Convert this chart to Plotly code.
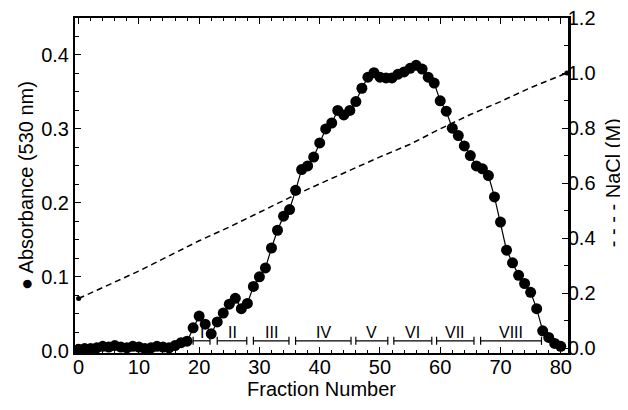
import plotly.graph_objects as go

# absorbance at 530 nm, one reading per fraction
fractions = list(range(0, 81))
absorbance = [0.002, 0.003, 0.003, 0.004, 0.006, 0.005, 0.007, 0.005, 0.004, 0.006,
              0.005, 0.003, 0.004, 0.006, 0.005, 0.004, 0.007,
              0.011, 0.013, 0.031, 0.047, 0.036, 0.023, 0.039, 0.051, 0.063, 0.071,
              0.057, 0.064, 0.087, 0.100, 0.112, 0.139, 0.163, 0.182, 0.191, 0.217,
              0.245, 0.250, 0.262, 0.281, 0.300, 0.308, 0.325, 0.319, 0.325, 0.337,
              0.355, 0.370, 0.376, 0.370, 0.369, 0.369, 0.374, 0.377, 0.382, 0.386,
              0.381, 0.370, 0.362, 0.338, 0.324, 0.301, 0.291, 0.277, 0.264, 0.250,
              0.246, 0.237, 0.208, 0.174, 0.136, 0.119, 0.102, 0.091, 0.079, 0.057,
              0.027, 0.018, 0.010, 0.006]

# NaCl gradient (M)
nacl_fraction = [0, 5, 10, 15, 20, 25, 30, 35, 40, 45, 50, 55, 60, 65, 70, 75, 81]
nacl_molar = [0.18, 0.23, 0.28, 0.335, 0.39, 0.44, 0.495, 0.547, 0.597, 0.646,
              0.695, 0.741, 0.797, 0.849, 0.896, 0.947, 1.0]

# pooled fractions
pool_names = ["I", "II", "III", "IV", "V", "VI", "VII", "VIII"]
pool_start = [19, 23, 29, 36, 46, 52.3, 59.4, 66.7]
pool_end = [21.8, 27.9, 34.9, 45.2, 51.3, 58.6, 65.6, 76.8]

FONT = "Liberation Sans, Arial, sans-serif"

fig = go.Figure()

# NaCl on the primary axis (drawn underneath), shown on the right side
fig.add_trace(go.Scatter(
    x=nacl_fraction, y=nacl_molar, yaxis="y", mode="lines",
    line=dict(color="black", width=1.5, dash="6px,4px"), showlegend=False))
fig.add_trace(go.Scatter(
    x=[nacl_fraction[0], nacl_fraction[-1]], y=[nacl_molar[0], nacl_molar[-1]],
    yaxis="y", mode="markers", marker=dict(color="black", size=5), showlegend=False))

fig.add_trace(go.Scatter(
    x=fractions, y=absorbance, yaxis="y2", mode="lines+markers",
    line=dict(color="black", width=1.2),
    marker=dict(color="black", size=11), showlegend=False))

# bracket bars for pools
bar_y = 0.0135
cap = 0.0055
for name, a, b in zip(pool_names, pool_start, pool_end):
    fig.add_shape(type="line", xref="x", yref="y2", x0=a, x1=b, y0=bar_y, y1=bar_y,
                  line=dict(color="black", width=1.2))
    for xc in (a, b):
        fig.add_shape(type="line", xref="x", yref="y2", x0=xc, x1=xc,
                      y0=bar_y - cap, y1=bar_y + cap, line=dict(color="black", width=1.2))
    fig.add_annotation(x=(a + b) / 2, y=bar_y, xref="x", yref="y2", text=name,
                       showarrow=False, yanchor="bottom", yshift=-2,
                       font=dict(family=FONT, size=16, color="black"))

# right-hand title as rotated text
fig.add_annotation(x=1, y=0.507, xref="paper", yref="paper", xshift=58,
                   text="- - - - NaCl (M)", textangle=-90, showarrow=False,
                   font=dict(family=FONT, size=20, color="black"))

fig.update_layout(
    width=628, height=410,
    margin=dict(l=67, r=68, t=10, b=65, autoexpand=False),
    paper_bgcolor="white", plot_bgcolor="white",
    font=dict(family=FONT, size=20, color="black"),
    xaxis=dict(
        range=[-0.6, 81.2], tickvals=[0, 10, 20, 30, 40, 50, 60, 70, 80],
        ticks="inside", ticklen=6, tickwidth=1.2, tickcolor="black",
        minor=dict(dtick=2, ticks="inside", ticklen=3, tickcolor="black"),
        showline=True, linecolor="black", linewidth=2, mirror="ticks",
        showgrid=False, zeroline=False, automargin=False, ticklabelstandoff=-5,
        title=dict(text="Fraction Number", standoff=0, font=dict(size=20)),
    ),
    yaxis=dict(
        side="right", range=[-0.018, 1.2], tickvals=[0, 0.2, 0.4, 0.6, 0.8, 1.0, 1.2],
        ticktext=["0.0", "0.2", "0.4", "0.6", "0.8", "1.0", "1.2"],
        ticks="inside", ticklen=6, tickwidth=1.2, tickcolor="black",
        minor=dict(dtick=0.1, ticks="inside", ticklen=4, tickcolor="black"),
        showline=True, linecolor="black", linewidth=2.5,
        ticklabelstandoff=-7, ticklabeloverflow="allow",
        showgrid=False, zeroline=False, automargin=False,
    ),
    yaxis2=dict(
        side="left", overlaying="y", range=[-0.003, 0.45],
        tickvals=[0, 0.1, 0.2, 0.3, 0.4],
        ticktext=["0.0", "0.1", "0.2", "0.3", "0.4"],
        ticks="inside", ticklen=6, tickwidth=1.2, tickcolor="black",
        minor=dict(dtick=0.025, ticks="inside", ticklen=4, tickcolor="black"),
        showline=True, linecolor="black", linewidth=2,
        showgrid=False, zeroline=False, automargin=False,
        title=dict(text="● Absorbance (530 nm)", standoff=2, font=dict(size=20)),
    ),
)

fig.write_html("out.html")
